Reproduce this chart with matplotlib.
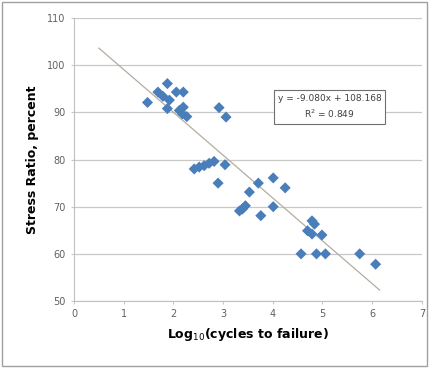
import matplotlib
matplotlib.use("Agg")
import matplotlib.pyplot as plt
import numpy as np

# log10(cycles to failure) and stress ratio (percent)
log_cycles = [1.48, 1.69, 1.79, 1.88, 1.92, 1.88, 2.06, 2.20, 2.12, 2.20, 2.18, 2.27,
              2.92, 3.06, 2.42, 2.52, 2.62, 2.72, 2.82, 3.04, 2.90, 3.53, 3.71, 4.01,
              4.25, 3.33, 3.39, 3.45, 3.76, 4.01, 4.79, 4.84, 4.70, 4.79, 4.99, 4.57,
              4.88, 5.06, 5.75, 6.07]
stress = [92.1, 94.3, 93.4, 96.1, 92.6, 90.8, 94.3, 94.3, 90.4, 91.1, 89.7, 89.1,
          91.0, 89.0, 78.0, 78.4, 78.7, 79.2, 79.6, 78.9, 75.0, 73.1, 75.0, 76.1,
          74.0, 69.1, 69.5, 70.2, 68.1, 70.0, 67.0, 66.3, 64.9, 64.2, 64.0, 60.0,
          60.0, 60.0, 60.0, 57.8]

slope, intercept = -9.080, 108.168
trend_x = [0.5, 6.15]
x_ticks = [0, 1, 2, 3, 4, 5, 6, 7]
y_ticks = [50, 60, 70, 80, 90, 100, 110]

fig = plt.figure(figsize=(4.3, 3.68), dpi=100)
fig.patches.append(plt.Rectangle((0.004, 0.005), 0.99, 0.99, transform=fig.transFigure,
                                 fill=False, edgecolor="#a0a0a0", linewidth=1))
ax = fig.add_axes([0.172, 0.182, 0.809, 0.769])

ax.grid(axis="y", color="#c8c8c8", linewidth=0.9)
ax.set_axisbelow(True)
tx = np.array(trend_x)
ax.plot(tx, slope * tx + intercept, color="#b5ad9f", linewidth=0.9, zorder=2)
ax.scatter(log_cycles, stress, marker="D", s=32, color="#4a7ebb", edgecolors="none", zorder=3)

ax.set_xlim(0, 7)
ax.set_ylim(50, 110)
ax.set_xticks(x_ticks)
ax.set_yticks(y_ticks)
for side in ["top", "right"]:
    ax.spines[side].set_visible(False)
for side in ["left", "bottom"]:
    ax.spines[side].set_color("#c0c0c0")
ax.tick_params(colors="#c8c8c8", labelcolor="#606060", labelsize=7, length=2.5)

ax.set_xlabel("Log$_{10}$(cycles to failure)", fontsize=9, fontweight="bold", labelpad=5)
ax.set_ylabel("Stress Ratio, percent", fontsize=9, fontweight="bold", labelpad=6)

ax.text(5.14, 91.1, "y = %.3fx + %.3f\nR$^2$ = 0.849" % (slope, intercept),
        ha="center", va="center", fontsize=6.5, color="#404040", linespacing=1.5,
        bbox=dict(boxstyle="square,pad=0.4", facecolor="white", edgecolor="#707070", linewidth=0.8))

fig.savefig("out.png", dpi=100)
